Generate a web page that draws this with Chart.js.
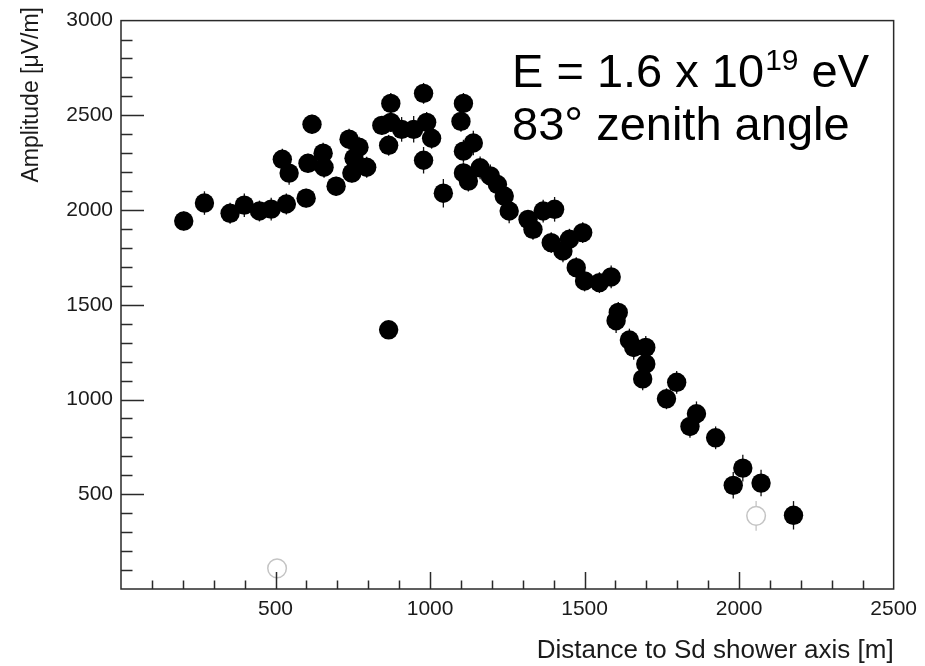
<!DOCTYPE html>
<html>
<head>
<meta charset="utf-8">
<script src="https://cdn.jsdelivr.net/npm/chart.js@4/dist/chart.umd.min.js"></script>
<style>
  html, body { margin: 0; padding: 0; background: #ffffff; }
  #wrap { width: 925px; height: 666px; }
</style>
</head>
<body>
<div id="wrap"><canvas id="radio" width="925" height="666"></canvas></div>
<script>
// Radio amplitude of one inclined air shower versus distance to the shower axis
const distances = [
  203, 270, 353, 399, 448, 486, 522, 535, 544, 599,
  605, 618, 654, 657, 696, 738, 747, 754, 770, 795,
  844, 866, 866, 873, 873, 908, 947, 979, 979, 989,
  1005, 1043, 1100, 1108, 1108, 1108, 1124, 1140, 1162, 1195,
  1218, 1240, 1256, 1317, 1333, 1366, 1392, 1403, 1430, 1451,
  1473, 1494, 1500, 1548, 1586, 1602, 1609, 1645, 1659, 1688,
  1698, 1698, 1765, 1798, 1841, 1862, 1924, 1981, 2012, 2071,
  2176
];
const amplitudes = [
  1942, 2037, 1983, 2026, 1995, 2005, 2268, 2032, 2195, 2063,
  2247, 2453, 2300, 2226, 2126, 2374, 2195, 2274, 2332, 2226,
  2447, 2342, 1368, 2563, 2463, 2426, 2426, 2616, 2263, 2463,
  2379, 2089, 2468, 2563, 2311, 2196, 2153, 2354, 2223, 2180,
  2135, 2074, 1995, 1951, 1898, 1995, 1828, 2004, 1784, 1846,
  1696, 1881, 1626, 1617, 1647, 1416, 1460, 1314, 1275, 1109,
  1275, 1188, 1004, 1091, 858, 925, 798, 547, 638, 559,
  389
];
const amplitudeErrors = [
  50, 62, 55, 62, 55, 60, 55, 55, 62, 50,
  50, 50, 55, 55, 50, 55, 50, 55, 55, 55,
  50, 55, 40, 55, 50, 65, 70, 55, 70, 55,
  55, 75, 55, 55, 60, 55, 55, 65, 60, 60,
  60, 60, 65, 50, 55, 60, 55, 65, 60, 55,
  55, 55, 55, 55, 60, 65, 55, 60, 65, 60,
  60, 60, 55, 60, 60, 65, 60, 70, 70, 70,
  75
];
// Stations excluded from the fit (open markers)
const rejectedDistances = [505, 2055];
const rejectedAmplitudes = [109, 386];
const rejectedErrors = [45, 78];

const xTickValues = [500, 1000, 1500, 2000, 2500];
const yTickValues = [500, 1000, 1500, 2000, 2500, 3000];

const FONT = "'Liberation Sans', Arial, Helvetica, sans-serif";

const points = distances.map((d, i) => ({ x: d, y: amplitudes[i], err: amplitudeErrors[i] }));
const rejected = rejectedDistances.map((d, i) => ({ x: d, y: rejectedAmplitudes[i], err: rejectedErrors[i] }));

// Inward tick marks, frame, error bars, axis titles and the event caption
const rootStyle = {
  id: 'rootStyle',
  beforeDatasetsDraw(chart) {
    const { ctx, scales: { x, y } } = chart;
    ctx.save();
    chart.data.datasets.forEach((ds, di) => {
      ctx.strokeStyle = di === 0 ? '#111111' : '#c4c4c4';
      ctx.lineWidth = 1.3;
      ds.data.forEach(p => {
        const px = x.getPixelForValue(p.x);
        ctx.beginPath();
        ctx.moveTo(px, y.getPixelForValue(p.y - p.err));
        ctx.lineTo(px, y.getPixelForValue(p.y + p.err));
        ctx.stroke();
      });
    });
    ctx.restore();
  },
  afterDraw(chart) {
    const { ctx, chartArea: a, scales: { x, y } } = chart;
    ctx.save();
    ctx.strokeStyle = '#2a2a2a';
    ctx.lineWidth = 1.5;
    // frame
    ctx.strokeRect(a.left, a.top, a.right - a.left, a.bottom - a.top);
    // y ticks every 100, major every 500
    ctx.beginPath();
    for (let v = 100; v < y.max; v += 100) {
      const py = Math.round(y.getPixelForValue(v)) + 0.5;
      const len = v % 500 === 0 ? 23 : 11.5;
      ctx.moveTo(a.left, py);
      ctx.lineTo(a.left + len, py);
    }
    // x ticks every 100, major every 500
    for (let v = 100; v < x.max; v += 100) {
      const px = Math.round(x.getPixelForValue(v)) + 0.5;
      const len = v % 500 === 0 ? 17 : 8.5;
      ctx.moveTo(px, a.bottom);
      ctx.lineTo(px, a.bottom - len);
    }
    ctx.stroke();

    // axis titles
    ctx.fillStyle = '#1a1a1a';
    ctx.textAlign = 'right';
    ctx.textBaseline = 'alphabetic';
    ctx.font = '26px ' + FONT;
    ctx.fillText('Distance to Sd shower axis [m]', a.right, 658);
    ctx.save();
    ctx.font = '23px ' + FONT;
    ctx.translate(38, 7);
    ctx.rotate(-Math.PI / 2);
    ctx.fillText('Amplitude [\u03BCV/m]', 0, 0);
    ctx.restore();

    // event caption
    ctx.fillStyle = '#000000';
    ctx.textAlign = 'left';
    const big = '47px ' + FONT;
    const small = '30px ' + FONT;
    let cx = 512;
    const line1 = 87;
    ctx.font = big;
    const part1 = 'E = 1.6 x 10';
    ctx.fillText(part1, cx, line1);
    cx += ctx.measureText(part1).width + 1;
    ctx.font = small;
    ctx.fillText('19', cx, line1 - 17);
    cx += ctx.measureText('19').width;
    ctx.font = big;
    ctx.fillText(' eV', cx, line1);
    ctx.fillText('83\u00B0 zenith angle', 512, line1 + 53);
    ctx.restore();
  }
};

new Chart(document.getElementById('radio'), {
  type: 'scatter',
  data: {
    datasets: [
      {
        label: 'stations',
        data: points,
        pointRadius: 9.7,
        pointHoverRadius: 9.7,
        backgroundColor: '#000000',
        borderColor: '#000000',
        borderWidth: 0
      },
      {
        label: 'excluded stations',
        data: rejected,
        pointRadius: 9.3,
        pointHoverRadius: 9.3,
        backgroundColor: '#ffffff',
        borderColor: '#c4c4c4',
        borderWidth: 1.5
      }
    ]
  },
  options: {
    responsive: false,
    animation: false,
    devicePixelRatio: 1,
    layout: { padding: { left: 0, right: 28, top: 19, bottom: 0 } },
    plugins: { legend: { display: false }, tooltip: { enabled: false } },
    scales: {
      x: {
        type: 'linear',
        min: 0,
        max: 2500,
        afterFit(scale) { scale.height = 77; },
        afterBuildTicks(scale) { scale.ticks = [0].concat(xTickValues).map(v => ({ value: v })); },
        grid: { display: false, drawTicks: false },
        border: { display: false },
        ticks: {
          autoSkip: false,
          maxRotation: 0,
          padding: 8,
          color: '#1a1a1a',
          font: { family: FONT, size: 21 },
          callback: v => (xTickValues.includes(v) ? String(v) : '')
        }
      },
      y: {
        type: 'linear',
        min: 0,
        max: 3000,
        afterFit(scale) { scale.width = 121; },
        afterBuildTicks(scale) { scale.ticks = [0].concat(yTickValues).map(v => ({ value: v })); },
        grid: { display: false, drawTicks: false },
        border: { display: false },
        ticks: {
          autoSkip: false,
          padding: 8,
          color: '#1a1a1a',
          font: { family: FONT, size: 21 },
          callback: v => (yTickValues.includes(v) ? String(v) : '')
        }
      }
    }
  },
  plugins: [rootStyle]
});
</script>
</body>
</html>
